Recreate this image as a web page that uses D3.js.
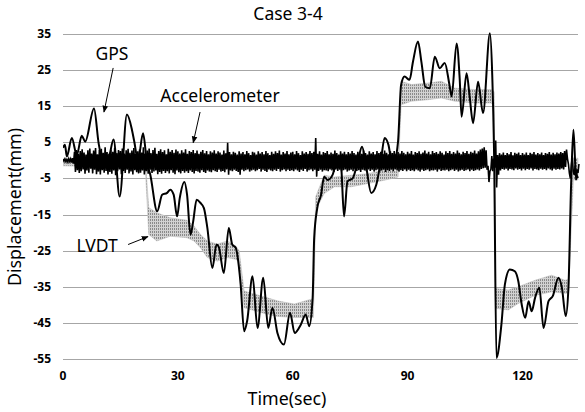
<!DOCTYPE html>
<html>
<head>
<meta charset="utf-8">
<script src="https://cdn.jsdelivr.net/npm/d3@7"></script>
<style>
  body { margin: 0; background: #fff; }
  svg text { font-family: 'Noto Sans', 'Open Sans', sans-serif; }
</style>
</head>
<body>
<svg id="chart" width="585" height="412"></svg>
<script>
// y ticks and x ticks as printed on the chart
const yTicks = [35, 25, 15, 5, -5, -15, -25, -35, -45, -55];
const xTicks = [0, 30, 60, 90, 120];

// GPS displacement (time in sec, value in mm)
const gpsT = [0, 0.5, 1, 2.3, 3.6, 4.9, 5.8, 8.1, 9.3, 10.5, 12, 13.2, 14.8, 16.7, 18, 18.6, 19.6, 20.9, 21.9, 22.8,
  24.6, 25.9, 27.2, 28, 28.9, 29.8, 30.5, 31.7, 32.4, 33.3, 34, 34.9, 35.9, 36.8, 37.7, 39, 40.1, 40.7, 42, 43.3,
  44.2, 45.1, 46.4, 47.3, 48.1, 49.5, 50.8, 52.3, 53.6, 54.7, 56, 57.7, 59.3, 60.5, 62.1, 63.4, 64.3, 65.2, 65.6, 66.4,
  67.4, 68.2, 69.1, 70.4, 71.8, 72.6, 73.4, 74.3, 75.7, 77, 78.1, 79.1, 80.5, 81.8, 83.1, 84, 85, 86.1, 87.5, 88.3,
  89.2, 90.5, 91.4, 92.7, 93.6, 94.6, 95.8, 97.1, 98.4, 99.7, 100.9, 101.5, 102.8, 103.6, 104.1, 105.4, 106.2, 107.1, 108.4, 109.7,
  111.5, 112.1, 112.6, 113.2, 114.5, 115.4, 116.7, 118, 118.9, 119.8, 120.7, 121.6, 122.4, 123.3, 124.4, 125.5, 126.8, 127.9, 129.4, 130.3,
  131.3, 132, 132.7, 133.3, 133.9, 134.5];
const gpsV = [3.5, 4.3, 1.1, 6.2, 1.5, 6.8, 5.2, 14.4, 4.8, -0.5, 1, 5.8, -10, 12.7, 8.5, 5.3, 0, 7.5, -0.3, -4,
  -14.1, -9.5, -9, -8.1, -9.5, -15.5, -10.4, -6, -9.5, -20.6, -16.9, -10.9, -11.8, -13.2, -18.7, -29.8, -23.3, -24, -31.2, -18.7,
  -23.3, -24.2, -34.4, -47.3, -44.4, -32.1, -46.4, -32.5, -46.4, -40.8, -47.8, -51, -42.2, -47.8, -45.5, -42.7, -45.9, -38, -21.5, -13.2,
  -9.5, -4.5, -5.4, -4, 0.6, -1.2, -15.5, -5.8, -4.9, -0.2, 3.8, -1.2, -9, -6.8, 0.6, 6.2, 4.3, -2, 5.2, 20.9,
  23.2, 22.3, 27.3, 32.9, 27.3, 20.4, 20, 28.7, 25.5, 27, 21.1, 17.7, 32.4, 22.6, 12.1, 24.1, 17.7, 10.3, 21.8, 13.1,
  35.2, 23.7, 0.6, -54.7, -45.4, -34.4, -30.2, -30.7, -33.4, -39.9, -43.6, -39, -41.8, -38, -35.3, -46.4, -39, -37.6, -32.5, -35.3,
  -43.1, -35.3, -6.7, 8.5, -3, -4.9];

// Accelerometer displacement, one value every 0.25 sec from t = 0 (20 values per row = 5 sec)
const accStep = 0.25;
const accV = [
  0.3, -0.2, 0.4, -0.3, 0.2, -0.4, 0.5, -0.3, 0.4, -0.6, 0.6, -0.9, 2.4, -3.2, 2.9, -2.7, 1.8, -3.5, 2.6, -3.0,
  3.1, -2.5, 2.2, -3.7, 1.6, -2.8, 2.8, -3.4, 3.3, -2.3, 1.9, -3.6, 2.7, -2.6, 3.4, -3.8, 1.7, -3.1, 2.9, -3.9,
  3.2, -2.7, 2.1, -3.4, 3.6, -2.9, 2.3, -3.9, 1.8, -3.2, 3.0, -3.7, 2.4, -2.8, 3.5, -4.1, 2.0, -3.0, 2.9, -2.5,
  2.6, -3.8, 3.3, -2.9, 1.9, -3.5, 2.8, -2.6, 3.2, -3.6, 2.1, -3.1, 2.7, -3.9, 3.4, -2.7, 1.8, -3.3, 2.5, -3.6,
  3.0, -3.4, 2.2, -2.8, 3.6, -3.9, 1.9, -3.0, 2.7, -3.7, 3.3, -2.6, 2.0, -3.5, 2.9, -3.1, 3.5, -2.8, 1.8, -3.8,
  2.6, -3.2, 3.1, -3.7, 2.3, -2.9, 2.8, -3.5, 1.7, -3.0, 3.2, -3.6, 2.4, -2.7, 2.9, -3.4, 2.1, -3.8, 3.0, -2.8,
  2.5, -3.3, 1.9, -3.6, 2.8, -2.9, 2.2, -3.4, 3.1, -3.0, 1.8, -3.5, 2.6, -2.8, 2.3, -3.2, 2.9, -3.6, 2.0, -2.9,
  2.7, -3.1, 1.8, -3.4, 2.4, -2.7, 2.9, -3.2, 2.0, -3.5, 2.6, -2.8, 1.7, -3.1, 2.5, -3.3, 2.2, -2.7, 2.8, -3.0,
  1.9, -3.2, 2.5, -2.6, 2.2, -3.1, 1.6, -2.9, 2.7, -3.3, 2.0, -2.5, 4.9, -4.0, 2.3, -2.8, 1.7, -3.0, 2.4, -2.6,
  2.1, -2.9, 1.6, -3.2, 2.5, -4.0, 1.9, -2.6, 2.3, -3.0, 1.7, -2.7, 2.6, -2.5, 2.0, -3.1, 1.5, -2.8, 2.4, -2.6,
  2.2, -3.0, 1.6, -2.7, 2.5, -2.4, 1.9, -3.1, 2.3, -2.6, 1.7, -2.9, 2.6, -3.2, 2.0, -2.5, 1.5, -2.8, 2.4, -3.0,
  1.8, -2.6, 2.5, -2.9, 2.0, -2.4, 2.7, -3.1, 1.6, -2.7, 2.3, -2.5, 1.9, -3.0, 2.6, -2.6, 1.7, -2.9, 2.2, -2.7,
  2.4, -3.0, 1.7, -2.5, 2.6, -2.8, 2.0, -3.2, 1.5, -2.6, 2.5, -2.9, 1.9, -2.4, 2.3, -3.1, 1.8, -2.7, 2.6, -2.5,
  2.0, -3.0, 2.4, -2.6, 6.2, -4.5, 1.8, -2.9, 2.5, -2.6, 1.6, -3.1, 2.3, -2.7, 2.0, -2.8, 2.6, -3.0, 1.7, -2.5,
  2.2, -2.8, 1.8, -3.2, 2.7, -2.5, 2.0, -2.9, 1.6, -2.6, 2.5, -3.0, 1.9, -2.7, 2.4, -2.5, 1.7, -3.1, 2.3, -2.8,
  1.9, -2.6, 2.6, -3.0, 2.0, -2.5, 1.6, -2.9, 2.4, -2.7, 2.1, -3.2, 1.8, -2.6, 2.7, -2.8, 2.0, -3.0, 1.6, -2.5,
  2.5, -2.9, 1.9, -2.6, 2.3, -3.1, 1.7, -2.7, 2.6, -2.5, 2.0, -3.0, 2.4, -2.8, 1.8, -2.6, 2.7, -3.2, 2.1, -2.7,
  1.7, -2.9, 2.5, -2.6, 2.0, -3.0, 2.6, -2.5, 1.8, -2.8, 2.3, -3.1, 1.9, -2.7, 2.6, -2.9, 2.1, -2.5, 1.7, -3.0,
  2.4, -2.6, 1.9, -2.9, 2.6, -2.7, 1.6, -3.0, 2.3, -2.5, 2.0, -2.8, 2.5, -3.1, 1.8, -2.6, 2.2, -2.9, 2.7, -2.7,
  1.9, -2.5, 2.4, -3.0, 1.7, -2.7, 2.6, -2.8, 2.0, -2.6, 2.3, -3.1, 1.8, -2.5, 2.5, -2.9, 2.1, -2.7, 1.6, -2.8,
  2.5, -2.6, 2.0, -3.0, 2.6, -2.7, 1.8, -2.5, 2.3, -2.9, 1.9, -2.6, 2.7, -3.1, 2.1, -2.8, 1.7, -2.6, 2.4, -2.9,
  2.0, -2.7, 2.6, -2.5, 1.8, -3.0, 2.4, -2.6, 2.1, -2.9, 2.7, -2.7, 1.9, -2.5, 2.5, -2.8, 3.0, -2.4, 3.3, -2.2,
  3.6, -2.0, 2.8, -2.6, -1.5, -6.0, -3.0, -2.5, 1.2, -3.0, 0.5, -2.0, 5.5, -7.5, 1.5, -4.0, 2.0, -2.8, 1.6, -2.4,
  2.2, -2.6, 1.5, -2.3, 2.0, -2.8, 1.7, -2.4, 2.3, -2.5, 1.4, -2.7, 2.1, -2.2, 1.8, -2.6, 2.2, -2.4, 1.5, -2.8,
  2.0, -2.3, 1.6, -2.7, 2.2, -2.4, 1.5, -2.6, 2.1, -2.2, 1.8, -2.8, 2.3, -2.4, 1.6, -2.5, 2.0, -2.7, 1.7, -2.3,
  2.2, -2.6, 1.5, -2.4, 2.0, -2.7, 1.8, -2.2, 2.3, -2.5, 1.6, -2.8, 2.1, -2.3, 1.7, -2.6, 2.2, -2.4, 1.9, -2.5,
  2.3, -2.2, 2.0, -2.5, 2.6, -1.8, 3.0, 0.5, -1.0, -3.5, -5.0, -1.5, 1.0, -3.0, -4.0, -1.5, -5.5, -2.5, -3.5, -1.0
];

// LVDT band: upper and lower edge of the grey trace
const lvdtT = [0, 21.5, 22.4, 24.5, 28, 32.4, 34.2, 35.9, 37.7, 40.3, 42.9, 45.1, 46, 47.3, 51.6, 56, 60.4, 64.6, 65.4, 66,
  68.2, 70.9, 75.3, 79.6, 83.9, 87.5, 88.3, 91, 95.3, 98.8, 102.3, 107.5, 111.8, 112.6, 113, 116.3, 118.9, 123.3, 127.6, 131.1,
  132, 133.3, 134.5];
const lvdtHi = [0.5, 0, -13.1, -14.5, -15.9, -16.6, -18.2, -20.5, -22.3, -23.2, -22.3, -23.7, -25, -36.2, -37.5, -38.9, -39.8, -38.5, -38.5, -10.1,
  -4.1, -4.6, -4.1, -3.7, -2.7, -3, 21.9, 21, 21.4, 21.9, 20, 19.6, 19.6, 19, -35.5, -35.9, -35, -33.2, -31.8, -33.2,
  -33, 0.6, 0.6];
const lvdtLo = [-1.5, -2, -20.5, -22.3, -21, -21.4, -22.3, -24.2, -26.9, -27.9, -26.9, -27.4, -28, -40.8, -42.1, -43.2, -43.5, -43.5, -43.5, -13.8,
  -9.2, -7.3, -7.3, -6.4, -5.5, -4.6, 15.4, 16.4, 16.8, 17.3, 16.4, 15.9, 15.9, 15, -41, -41.4, -39.6, -37.4, -36.4, -36.8,
  -36.8, -5.4, -5.4];

// callouts: label anchor and arrow (from -> to), in data units
const notes = [
  { text: 'GPS', t: 12.8, v: 29.5, from: [13.1, 25.6], to: [10.7, 13.4] },
  { text: 'Accelerometer', t: 41, v: 17.9, from: [35.8, 13.4], to: [34, 4.9] },
  { text: 'LVDT', t: 8.9, v: -23.6, from: [17, -23.3], to: [22.2, -21.1] },
];

const config = {
  left: 63, right: 578, top: 34, bottom: 359,
};

const svg = d3.select('#chart');

const x = d3.scaleLinear().domain([0, 134.5]).range([config.left, config.right]);
const y = d3.scaleLinear().domain([-55, 35]).range([config.bottom, config.top]);

const defs = svg.append('defs');
const pat = defs.append('pattern')
  .attr('id', 'lvdtFill')
  .attr('patternUnits', 'userSpaceOnUse')
  .attr('width', 2)
  .attr('height', 3);
pat.append('rect').attr('width', 2).attr('height', 3).attr('fill', '#d2d2d2');
pat.append('rect').attr('width', 1).attr('height', 2).attr('fill', '#8a8a8a');

defs.append('clipPath')
  .attr('id', 'plotClip')
  .append('rect')
  .attr('x', config.left)
  .attr('y', 0)
  .attr('width', config.right - config.left + 2)
  .attr('height', 412);

defs.append('marker')
  .attr('id', 'arrow')
  .attr('viewBox', '0 0 10 10')
  .attr('refX', 9)
  .attr('refY', 5)
  .attr('markerWidth', 7)
  .attr('markerHeight', 7)
  .attr('orient', 'auto')
  .append('path')
  .attr('d', 'M0,1 L10,5 L0,9 Z')
  .attr('fill', '#000');

// gridlines
svg.append('g')
  .selectAll('line')
  .data(yTicks)
  .enter()
  .append('line')
  .attr('x1', config.left)
  .attr('x2', config.right)
  .attr('y1', d => Math.round(y(d)) + 0.5)
  .attr('y2', d => Math.round(y(d)) + 0.5)
  .attr('stroke', '#a6a6a6')
  .attr('stroke-width', 1);

// y tick labels
svg.append('g')
  .selectAll('text')
  .data(yTicks)
  .enter()
  .append('text')
  .attr('x', 51)
  .attr('y', d => y(d) + 4)
  .attr('text-anchor', 'end')
  .attr('font-size', 12)
  .attr('font-weight', 'bold')
  .text(d => d);

// x tick labels
svg.append('g')
  .selectAll('text')
  .data(xTicks)
  .enter()
  .append('text')
  .attr('x', d => x(d))
  .attr('y', 380)
  .attr('text-anchor', 'middle')
  .attr('font-size', 12)
  .attr('font-weight', 'bold')
  .text(d => d);

const plot = svg.append('g').attr('clip-path', 'url(#plotClip)');

// LVDT band
const lvdt = lvdtT.map((t, i) => ({ t, hi: lvdtHi[i], lo: lvdtLo[i] }));
plot.append('path')
  .datum(lvdt)
  .attr('d', d3.area().x(d => x(d.t)).y0(d => y(d.lo)).y1(d => y(d.hi)))
  .attr('fill', 'url(#lvdtFill)')
  .attr('stroke', '#bdbdbd')
  .attr('stroke-width', 0.6);

// accelerometer trace
const acc = accV.map((v, i) => ({ t: i * accStep, v }));
plot.append('path')
  .datum(acc)
  .attr('d', d3.line().x(d => x(d.t)).y(d => y(d.v)))
  .attr('fill', 'none')
  .attr('stroke', '#000')
  .attr('stroke-width', 1.6);

// GPS trace
const gps = gpsT.map((t, i) => ({ t, v: gpsV[i] }));
plot.append('path')
  .datum(gps)
  .attr('d', d3.line().curve(d3.curveMonotoneX).x(d => x(d.t)).y(d => y(d.v)))
  .attr('fill', 'none')
  .attr('stroke', '#000')
  .attr('stroke-width', 2);

// callouts
const note = svg.append('g').selectAll('g').data(notes).enter().append('g');
note.append('text')
  .attr('x', d => x(d.t))
  .attr('y', d => y(d.v) + 6)
  .attr('text-anchor', 'middle')
  .attr('font-size', 17.5)
  .text(d => d.text);
note.append('line')
  .attr('x1', d => x(d.from[0]))
  .attr('y1', d => y(d.from[1]))
  .attr('x2', d => x(d.to[0]))
  .attr('y2', d => y(d.to[1]))
  .attr('stroke', '#000')
  .attr('stroke-width', 1)
  .attr('marker-end', 'url(#arrow)');

// titles
svg.append('text')
  .attr('x', 288)
  .attr('y', 20)
  .attr('text-anchor', 'middle')
  .attr('font-size', 17.5)
  .text('Case 3-4');

svg.append('text')
  .attr('x', 287)
  .attr('y', 405)
  .attr('text-anchor', 'middle')
  .attr('font-size', 17.8)
  .text('Time(sec)');

svg.append('text')
  .attr('transform', 'translate(21, 207) rotate(-90)')
  .attr('text-anchor', 'middle')
  .attr('font-size', 17.8)
  .text('Displacement(mm)');
</script>
</body>
</html>
